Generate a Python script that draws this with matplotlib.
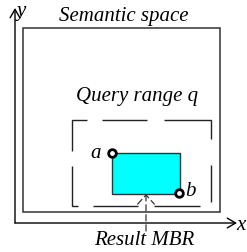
import matplotlib
matplotlib.use("Agg")
import matplotlib.pyplot as plt
from matplotlib.patches import Rectangle

# layout in pixel units of the original sketch (y grows downward)
space_box = [23, 29, 220, 213]      # x0, y0, x1, y1
query_box = [72, 121, 211, 207]
query_start_y = 167                 # where the dashed outline starts on the right edge
mbr_box = [112, 154, 180, 195]
point_labels = ["a", "b"]
point_x = [112, 179]
point_y = [154, 194]
label_x = [96, 190]
label_y = [153, 191]
axis_origin = [15, 224]
axis_end = [237, 9]
mbr_arrow_x = 146
mbr_arrow_tail = 232
titles = ["Semantic space", "Query range q", "Result MBR"]
title_pos = [(124, 16), (137, 97), (144, 241)]

PX = 0.72  # points per pixel at 100 dpi
query_dashes = [v * PX for v in [36, 15, 46, 16, 45, 15, 46, 15, 46, 15, 45, 17, 66, 26]]

fig = plt.figure(figsize=(2.47, 2.53), dpi=100)
ax = fig.add_axes([0, 0, 1, 1])
ax.set_xlim(0, 247)
ax.set_ylim(253, 0)
ax.axis("off")

font = dict(family="Liberation Serif", style="italic", fontsize=15)

# axes arrows
ax.annotate("", xy=(axis_end[0], axis_origin[1]), xytext=(axis_origin[0], axis_origin[1]),
            arrowprops=dict(arrowstyle="->,head_length=0.6,head_width=0.35", lw=1, color="black",
                            shrinkA=0, shrinkB=0))
ax.annotate("", xy=(axis_origin[0], axis_end[1]), xytext=(axis_origin[0], axis_origin[1]),
            arrowprops=dict(arrowstyle="->,head_length=0.6,head_width=0.35", lw=1, color="black",
                            shrinkA=0, shrinkB=0))
ax.text(axis_end[0] - 1, axis_origin[1] + 2, "x", ha="left", va="center", **font)
ax.text(axis_origin[0] + 2, axis_end[1] + 2, "y", ha="left", va="center", **font)

# semantic space
ax.add_patch(Rectangle((space_box[0], space_box[1]), space_box[2] - space_box[0],
                       space_box[3] - space_box[1], fill=False, ec="#333333", lw=1.1))

# query range, traced from the right edge going down
x0, y0, x1, y1 = query_box
qx = [x1, x1, x0, x0, x1, x1]
qy = [query_start_y, y1, y1, y0, y0, query_start_y]
ax.plot(qx, qy, color="#222222", lw=1, dashes=query_dashes,
        dash_joinstyle="miter", dash_capstyle="butt")

# result MBR
ax.add_patch(Rectangle((mbr_box[0], mbr_box[1]), mbr_box[2] - mbr_box[0],
                       mbr_box[3] - mbr_box[1], fc="#00ffff", ec="#333333", lw=1, zorder=3))

# corner points
ax.plot(point_x, point_y, "o", ms=5.5, mfc="white", mec="black", mew=2, zorder=5)
for lab, lx, ly in zip(point_labels, label_x, label_y):
    ax.text(lx, ly, lab, ha="center", va="center", **font)

# arrow to MBR
ax.annotate("", xy=(mbr_arrow_x, mbr_box[3]), xytext=(mbr_arrow_x, mbr_arrow_tail),
            arrowprops=dict(arrowstyle="->,head_length=0.55,head_width=0.5", lw=0.9,
                            color="#333333", mutation_scale=12,
                            linestyle=(0, (5, 3)), shrinkA=0, shrinkB=0), zorder=4)

for t, (tx, ty) in zip(titles, title_pos):
    ax.text(tx, ty, t, ha="center", va="center", **font)

fig.savefig("out.png", dpi=100)
